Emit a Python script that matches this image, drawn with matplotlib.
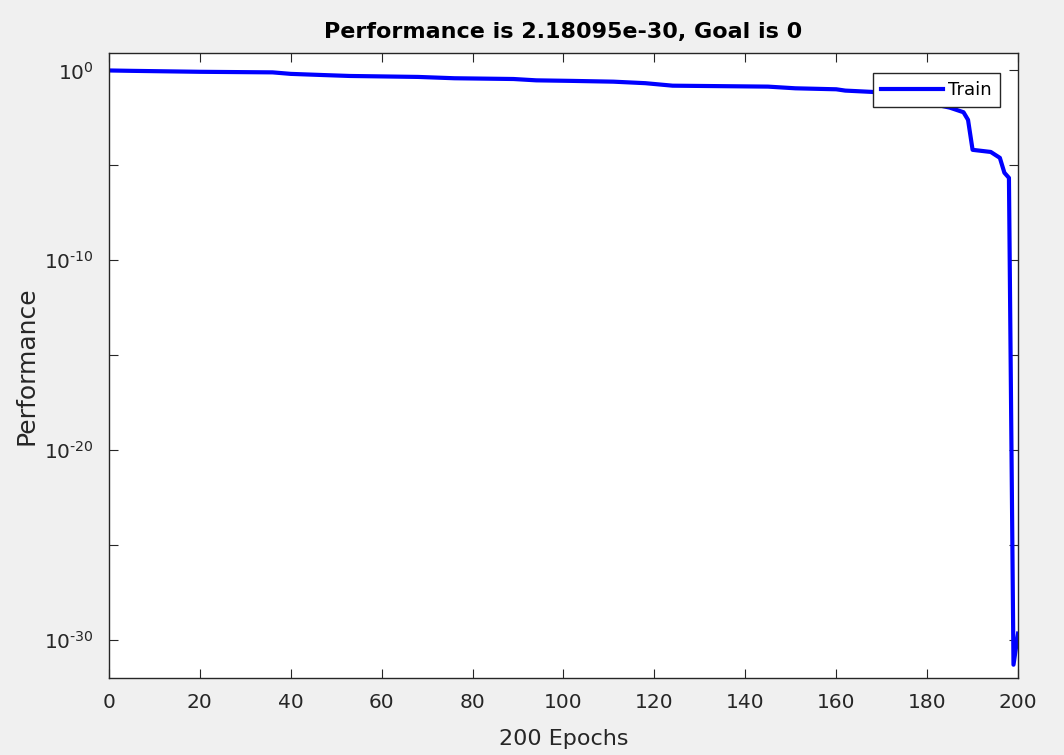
import numpy as np
import matplotlib.pyplot as plt

# данные: эпохи и значение ошибки (performance) на обучении
epochs = [0, 5, 20, 36, 40, 47, 53, 68, 76, 89, 94, 102, 111, 118, 124, 145,
          151, 160, 162, 168, 175, 180, 185, 188, 189, 190, 194, 196, 197,
          198, 199, 200]
train_perf = [1.0, 0.955, 0.851, 0.794, 0.661, 0.575, 0.513, 0.457, 0.389,
              0.355, 0.302, 0.282, 0.257, 0.214, 0.158, 0.141, 0.115, 0.102,
              0.087, 0.074, 0.040, 0.020, 0.011, 6.3e-3, 2.5e-3, 6.6e-5,
              5.1e-5, 2.5e-5, 4.1e-6, 2.2e-6, 5e-32, 2.18095e-30]

x_ticks = [0, 20, 40, 60, 80, 100, 120, 140, 160, 180, 200]
y_ticks = [1e-30, 1e-25, 1e-20, 1e-15, 1e-10, 1e-5, 1e0]
y_tick_labels = [r'$10^{\text{-}30}$', '', r'$10^{\text{-}20}$', '',
                 r'$10^{\text{-}10}$', '', '$10^{0}$']

text_color = '#262626'

fig = plt.figure(figsize=(10.64, 7.55), dpi=100, facecolor='#f0f0f0')
ax = fig.add_axes([0.1024, 0.102, 0.8544, 0.8278])
ax.set_facecolor('white')

# линия обучения
ax.plot(epochs, train_perf, color='blue', linewidth=3, label='Train')
ax.set_yscale('log')
ax.set_xlim(0, 200)
ax.set_ylim(1e-32, 10 ** 0.92)

ax.set_xticks(x_ticks)
ax.set_yticks(y_ticks)
ax.set_yticklabels(y_tick_labels)
ax.yaxis.set_minor_locator(plt.NullLocator())

ax.tick_params(axis='both', which='major', direction='in', length=6.5,
               width=0.8, top=True, right=True, labelsize=14.5,
               colors=text_color, pad=11)
for spine in ax.spines.values():
    spine.set_color(text_color)
    spine.set_linewidth(1.0)

ax.set_title('Performance is 2.18095e-30, Goal is 0', fontsize=16,
             fontweight='bold', color='black', pad=11)
ax.set_xlabel('200 Epochs', fontsize=16, color=text_color, labelpad=12)
ax.set_ylabel('Performance', fontsize=18, color=text_color, labelpad=4)

leg = ax.legend(loc='upper right', bbox_to_anchor=(0.98, 0.968), fontsize=13,
                fancybox=False, framealpha=1, edgecolor=text_color,
                handlelength=3.4, borderpad=0.45, handletextpad=0.3,
                borderaxespad=0)
leg.get_frame().set_linewidth(1.0)

plt.savefig('out.png', dpi=100, facecolor=fig.get_facecolor())
